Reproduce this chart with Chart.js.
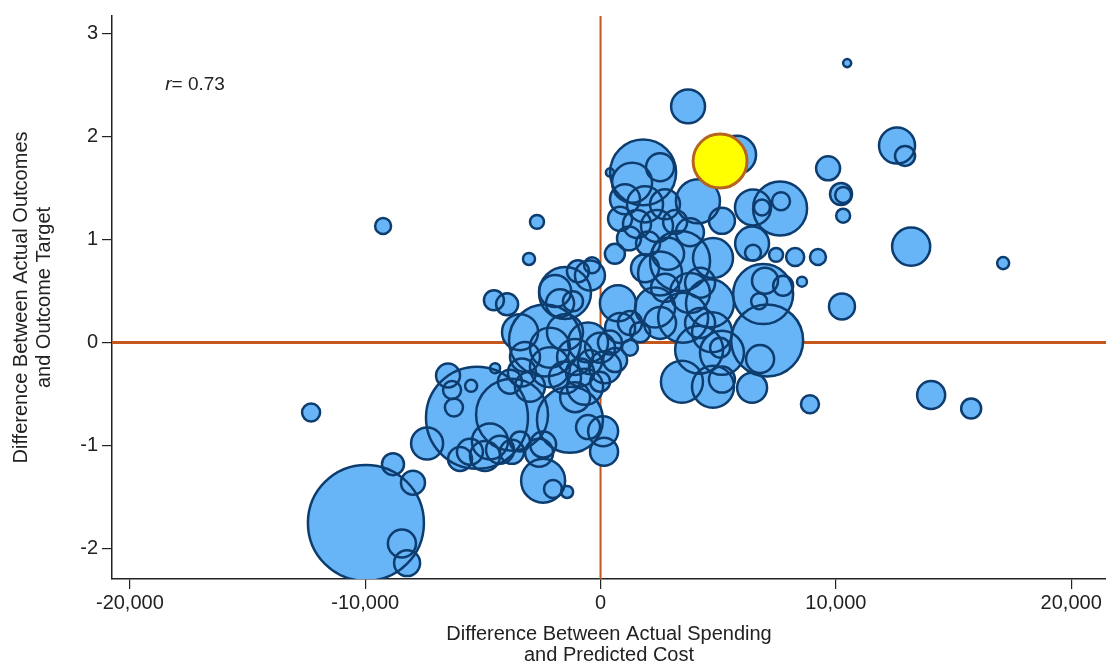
<!DOCTYPE html>
<html>
<head>
<meta charset="utf-8">
<script src="https://cdn.jsdelivr.net/npm/chart.js@4"></script>
<style>
  body { margin: 0; background: #fff; }
  canvas { display: block; }
</style>
</head>
<body>
<canvas id="graficoBurbujas" width="1106" height="666"></canvas>
<script>
// spending gap (actual - predicted), outcome gap (actual - target), enrollment weight
const spending = [
  10480, 3720, 5800, 12600, 12940, 9670, 10220, 10310, 10310, 13200,
  17110, 10260, 14050, 15750, 8900, 9240, 8270, 7460, 6480, 6440,
  8560, 7630, 7670, 6860, 6480, 6910, 6990, 6740, 7760, 7080,
  6780, 3460, 4780, 6440, 5160, 4190, 5160, 5080, 1810, 2530,
  400, 1340, 4140, 5160, 1040, 1890, 2740, 830, 1550, 2400,
  3170, 3800, 1210, 2020, -2700, -9240, 3380, 2870, 4780, -3040,
  -450, -960, -360, -1510, -1930, -1720, -1170, 740, 2530, 2740,
  3800, 4230, 4650, -4530, -3970, -2360, -3420, -3210, -2150, -1510,
  -1080, -530, -20, 400, 830, 1250, 1680, 2320, 2530, 3510,
  4230, 4740, -2150, -1510, -870, -450, 190, -660, -1080, -20,
  -6480, -6310, -6230, -5500, -4480, -3340, -3850, -3000, -12300, -5250,
  -3760, -1300, -530, 110, 150, -4700, -4270, -4910, -5550, -5970,
  -3760, -3420, -2610, -2440, -7370, -2440, -2020, -1420, -9970, -8820,
  -7970, -8440, -8220, 620, 1250, 610, 1890
];
const outcome = [
  2.71, 2.29, 1.82, 1.91, 1.81, 1.69, 1.44, 1.43, 1.23, 0.93,
  0.77, 0.35, -0.51, -0.64, -0.60, 0.83, 0.83, 0.85, 0.87, 0.96,
  0.59, 1.30, 1.37, 1.31, 1.31, 0.47, 0.60, 0.40, 0.55, 0.02,
  -0.16, -0.38, -0.43, -0.44, -0.36, -0.07, -0.10, -0.05, 1.65, 1.70,
  1.65, 1.55, 1.37, 1.18, 1.39, 1.34, 1.34, 1.20, 1.15, 1.13,
  1.17, 1.07, 1.01, 0.96, 1.17, 1.13, 0.79, 0.86, 0.82, 0.81,
  0.65, 0.69, 0.75, 0.48, 0.50, 0.38, 0.40, 0.38, 0.67, 0.53,
  0.48, 0.58, 0.38, 0.41, 0.37, 0.02, 0.10, -0.14, -0.05, 0.10,
  -0.14, 0.00, -0.05, 0.00, 0.14, 0.19, 0.10, 0.34, 0.19, 0.24,
  0.19, 0.10, -0.24, -0.34, -0.29, -0.19, -0.24, -0.43, -0.53, -0.38,
  -0.32, -0.46, -0.63, -0.42, -0.25, -0.29, -0.38, -0.43, -0.68, -0.73,
  -0.70, -0.75, -0.82, -0.86, -1.06, -0.96, -1.04, -1.10, -1.06, -1.13,
  -1.06, -0.96, -1.07, -0.99, -0.98, -1.34, -1.42, -1.45, -1.75, -1.18,
  -1.36, -1.95, -2.14, -0.17, -0.05, 0.86, 0.72
];
const enrollment = [
  2.6, 46, 58, 52, 16, 23, 19.4, 10.2, 7.8, 58,
  5.8, 27, 31.4, 16, 13, 10.2, 13, 7.8, 10.2, 46,
  4, 116.6, 13, 10.2, 52, 144, 27, 10.2, 16, 207,
  31.4, 70.6, 70.6, 36, 27, 92, 77.4, 16, 174, 31.4,
  2.6, 64, 77.4, 27, 36, 52, 36, 23, 31.4, 41,
  23, 31.4, 23, 23, 7.8, 10.2, 144, 41, 64, 5.8,
  36, 19.4, 10.2, 108, 41, 31.4, 16, 52, 77.4, 31.4,
  64, 36, 92, 16, 19.4, 207, 52, 36, 64, 52,
  52, 64, 36, 23, 36, 23, 16, 64, 41, 100,
  36, 64, 64, 41, 31.4, 23, 41, 52, 36, 16,
  23, 13, 13, 5.8, 4, 31.4, 23, 36, 13, 416,
  207, 174, 23, 36, 31.4, 52, 31.4, 36, 27, 23,
  23, 16, 31.4, 27, 41, 77.4, 13, 5.8, 538, 19.4,
  23, 31.4, 27, 23, 10.2, 16, 31.4
];

// highlighted district
const highlightSpending = [5080];
const highlightOutcome = [1.76];
const highlightEnrollment = [116.6];

const xTickValues = [-20000, -10000, 0, 10000, 20000];
const yTickValues = [-2, -1, 0, 1, 2, 3];
const correlation = 0.73;

const FONT = '"Liberation Sans", Arial, Helvetica, sans-serif';
const TEXT = '#222';

// bubble area proportional to enrollment
const radio = w => 2.5 * Math.sqrt(w);

const puntos = spending.map((x, i) => ({ x: x, y: outcome[i], r: radio(enrollment[i]) }));

const destacado = highlightSpending.map((x, i) => ({
  x: x, y: highlightOutcome[i], r: radio(highlightEnrollment[i])
}));

// orange zero lines behind the bubbles
const lineasCero = {
  id: 'lineasCero',
  beforeDatasetsDraw(chart) {
    const { ctx, chartArea, scales } = chart;
    const x0 = scales.x.getPixelForValue(0);
    const y0 = scales.y.getPixelForValue(0);
    ctx.save();
    ctx.strokeStyle = '#c4581c';
    ctx.lineWidth = 3;
    ctx.beginPath();
    ctx.moveTo(chartArea.left, y0);
    ctx.lineTo(chartArea.right, y0);
    ctx.stroke();
    ctx.lineWidth = 2;
    ctx.beginPath();
    ctx.moveTo(x0, chartArea.top);
    ctx.lineTo(x0, chartArea.bottom);
    ctx.stroke();
    ctx.restore();
  }
};

// "r = 0.73" note in the upper left corner
const notaCorrelacion = {
  id: 'notaCorrelacion',
  afterDatasetsDraw(chart) {
    const { ctx, scales } = chart;
    const px = scales.x.getPixelForValue(-18500);
    const py = scales.y.getPixelForValue(2.5);
    ctx.save();
    ctx.fillStyle = TEXT;
    ctx.textBaseline = 'middle';
    ctx.textAlign = 'left';
    ctx.font = 'italic 19px ' + FONT;
    ctx.fillText('r', px, py);
    const w = ctx.measureText('r').width;
    ctx.font = '19px ' + FONT;
    ctx.fillText('= ' + correlation.toFixed(2), px + w, py);
    ctx.restore();
  }
};

const fondoBlanco = {
  id: 'fondoBlanco',
  beforeDraw(chart) {
    const { ctx } = chart;
    ctx.save();
    ctx.fillStyle = '#fff';
    ctx.fillRect(0, 0, chart.width, chart.height);
    ctx.restore();
  }
};

new Chart(document.getElementById('graficoBurbujas'), {
  type: 'bubble',
  data: {
    datasets: [
      // fills first, outlines on top so every circle stays visible
      {
        label: 'Distritos',
        data: puntos,
        backgroundColor: '#67b4f7',
        borderWidth: 0,
        order: 3
      },
      {
        label: 'Distritos (contorno)',
        data: puntos,
        backgroundColor: 'rgba(0,0,0,0)',
        borderColor: '#0d3c6e',
        borderWidth: 2.5,
        order: 2
      },
      {
        label: 'Destacado',
        data: destacado,
        backgroundColor: '#ffff00',
        borderColor: '#b5651d',
        borderWidth: 3,
        order: 1
      }
    ]
  },
  options: {
    responsive: false,
    animation: false,
    events: [],
    layout: { autoPadding: false, padding: { top: 10, left: 0, right: 0, bottom: 0 } },
    plugins: {
      legend: { display: false },
      tooltip: { enabled: false }
    },
    scales: {
      x: {
        type: 'linear',
        min: -20760,
        max: 21480,
        afterBuildTicks: axis => { axis.ticks = xTickValues.map(v => ({ value: v })); },
        afterFit: axis => { axis.height = 87; },
        ticks: {
          autoSkip: false,
          maxRotation: 0,
          padding: 2,
          color: TEXT,
          font: { family: FONT, size: 20 },
          callback: v => v.toLocaleString('en-US')
        },
        grid: { drawOnChartArea: false, tickLength: 10, color: TEXT, lineWidth: 1.2 },
        border: { color: TEXT, width: 1.5 },
        title: {
          display: true,
          text: ['Difference Between Actual Spending', 'and Predicted Cost'],
          color: TEXT,
          font: { family: FONT, size: 20, lineHeight: 1.05 },
          padding: { top: 0, bottom: 0 }
        }
      },
      y: {
        type: 'linear',
        min: -2.294,
        max: 3.167,
        afterBuildTicks: axis => { axis.ticks = yTickValues.map(v => ({ value: v })); },
        afterFit: axis => { axis.width = 112; },
        ticks: {
          padding: 4,
          color: TEXT,
          font: { family: FONT, size: 20 }
        },
        grid: { drawOnChartArea: false, tickLength: 10, color: TEXT, lineWidth: 1.2 },
        border: { color: TEXT, width: 1.5 },
        title: {
          display: true,
          text: ['Difference Between Actual Outcomes', 'and Outcome Target'],
          color: TEXT,
          font: { family: FONT, size: 20, lineHeight: 1.15 },
          padding: { top: 10, bottom: 0 }
        }
      }
    }
  },
  plugins: [fondoBlanco, lineasCero, notaCorrelacion]
});
</script>
</body>
</html>
